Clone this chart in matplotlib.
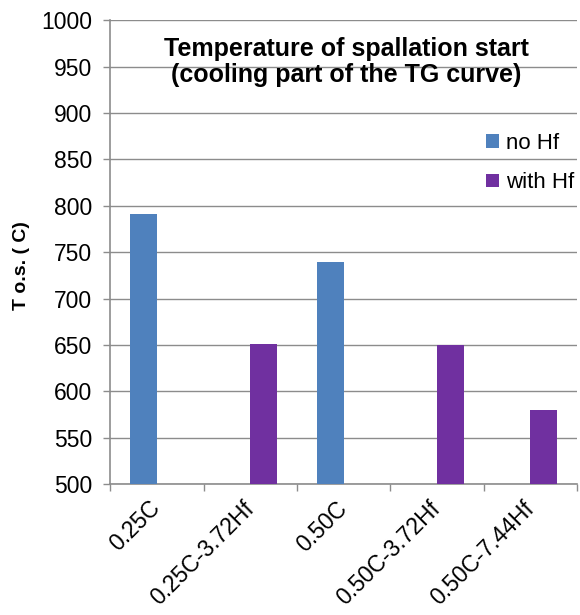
import numpy as np
import matplotlib
matplotlib.use("Agg")
from matplotlib import pyplot as plt

# Data
categories = ["0.25C", "0.25C-3.72Hf", "0.50C", "0.50C-3.72Hf", "0.50C-7.44Hf"]
no_hf = [791, np.nan, 739, np.nan, np.nan]
with_hf = [np.nan, 651, np.nan, 650, 580]
series_names = ["no Hf", "with Hf"]

plt.rcParams['font.family'] = ['Liberation Sans', 'DejaVu Sans']

fig = plt.figure(figsize=(5.8, 6.15), dpi=100)
ax = fig.add_axes([0.19, 0.213, 0.805, 0.754])

x = np.arange(len(categories))
w = 0.29
ax.bar(x - w / 2, no_hf, w, bottom=0, color="#4F81BD", label=series_names[0], zorder=3)
ax.bar(x + w / 2, with_hf, w, bottom=0, color="#7030A0", label=series_names[1], zorder=3)

ax.set_ylim(500, 1000)
ax.set_yticks(np.arange(500, 1001, 50))
ax.set_xlim(-0.5, len(categories) - 0.5)
ax.yaxis.grid(True, color="#8c8c8c", linewidth=1.0, zorder=0)

# category labels centred, tick marks at the boundaries
ax.set_xticks(x)
ax.set_xticklabels(categories, rotation=45, ha="right", va="center",
                   rotation_mode="anchor", fontsize=16.5)
ax.tick_params(axis="x", length=0, pad=15)
ax.set_xticks(np.arange(-0.5, len(categories)), minor=True)
ax.tick_params(axis="x", which="minor", length=5, color="#8c8c8c", width=1)
ax.tick_params(axis="y", length=5, color="#8c8c8c", width=1, labelsize=16.5, pad=8)

for side in ["top", "right"]:
    ax.spines[side].set_visible(False)
for side in ["left", "bottom"]:
    ax.spines[side].set_color("#8c8c8c")
    ax.spines[side].set_linewidth(1.2)

ax.set_ylabel("T o.s. ( C)", fontsize=14, fontweight="bold")
ax.yaxis.set_label_coords(-0.172, 0.47)

ax.text(0.505, 0.963, "Temperature of spallation start\n(cooling part of the TG curve)",
        transform=ax.transAxes, ha="center", va="top", fontsize=18,
        fontweight="bold", linespacing=1.1)

ax.legend(loc="upper left", bbox_to_anchor=(0.805, 0.758), frameon=False, fontsize=16,
          borderpad=0, borderaxespad=0,
          handlelength=0.58, handleheight=0.58, handletextpad=0.3, labelspacing=0.85)

fig.savefig("out.png", dpi=100)
